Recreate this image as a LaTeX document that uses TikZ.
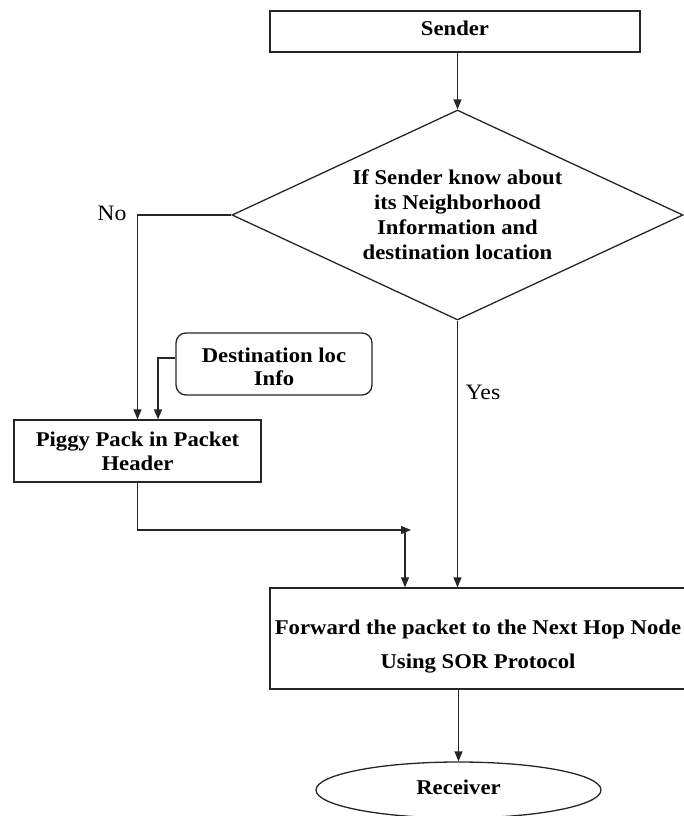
\documentclass[tikz,border=0pt]{standalone}
\usepackage{fontspec}
\setmainfont{Liberation Serif}[FakeStretch=1.08]
\usetikzlibrary{shapes.geometric,arrows.meta}
\begin{document}
\begin{tikzpicture}[x=1pt,y=-1pt,
  box/.style={draw=black!85,line width=1.3pt,rectangle,inner sep=0pt,align=center,font=\bfseries\fontsize{21}{25}\selectfont},
  arr/.style={line width=1.3pt,draw=black!85,-{Triangle[length=10pt,width=8pt]}},
  lbl/.style={font=\fontsize{22}{26}\selectfont,inner sep=0pt}]
\useasboundingbox (0,0) rectangle (683,816);
\node[box,minimum width=370,minimum height=41] (sender) at (455,31.5) {Sender\rule[-6pt]{0pt}{0pt}};
\node[box,diamond,aspect=2.15,minimum width=451,minimum height=210] (dia) at (457.5,215)
  {If Sender know about\\its Neighborhood\\Information and\\destination location};
\node[box,rounded corners=10pt,minimum width=196,minimum height=62,font=\bfseries\fontsize{21}{23}\selectfont] (dest) at (274,364) {\rule{0pt}{20pt}Destination loc\\Info};
\node[box,minimum width=247,minimum height=62,font=\bfseries\fontsize{21}{24}\selectfont] (piggy) at (137.5,451) {Piggy Pack in Packet\\Header};
\node[box,minimum width=416,minimum height=101,font=\bfseries\fontsize{21}{34}\selectfont] (fwd) at (478,638.5) {\rule{0pt}{31pt}Forward the packet to the Next Hop Node\\Using SOR Protocol};
\node[box,ellipse,minimum width=285,minimum height=56] (rec) at (458.5,790) {Receiver\rule[-6pt]{0pt}{0pt}};
\node[lbl] (no) at (112,213) {No};
\node[lbl] (yes) at (483,392) {Yes};
\coordinate (j) at (405,530);
\draw[arr] (sender.south -| dia.north) -- (dia.north);
\draw[arr] (dia.west) -- (dia.west -| piggy.north) -- (piggy.north);
\draw[arr] ([yshift=6pt]dest.west) -| ([xshift=20.5pt]piggy.north);
\draw[arr] (piggy.south) |- ([xshift=6pt]j);
\draw[arr] (j) -- (j |- fwd.north);
\draw[arr] (dia.south) -- (dia.south |- fwd.north);
\draw[arr] (fwd.south -| rec.north) -- (rec.north);
\end{tikzpicture}
\end{document}
